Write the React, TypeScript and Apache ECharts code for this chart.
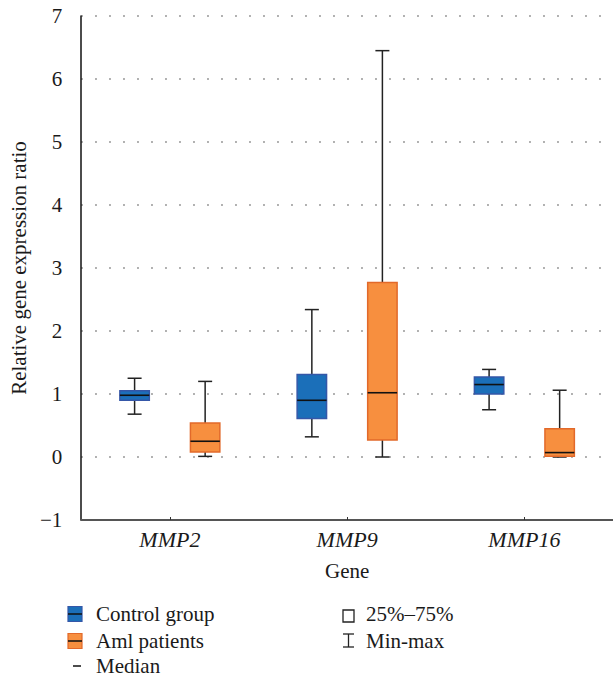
import React, { useEffect, useRef } from "react";
import * as echarts from "echarts";

const categories = ["MMP2", "MMP9", "MMP16"];
// [min, q1, median, q3, max]
const controlGroup = [
  [0.68, 0.9, 0.98, 1.05, 1.25],
  [0.32, 0.61, 0.9, 1.31, 2.34],
  [0.75, 1.0, 1.15, 1.27, 1.39],
];
const amlPatients = [
  [0.01, 0.08, 0.25, 0.54, 1.2],
  [0.0, 0.27, 1.02, 2.77, 6.45],
  [0.0, 0.01, 0.07, 0.45, 1.06],
];
const yTicks = { min: -1, max: 7, interval: 1 };
const seriesNames = ["Control group", "Aml patients"];
const legendExtra = ["Median", "25%–75%", "Min-max"];

const FONT = "Liberation Serif, DejaVu Serif, Times New Roman, serif";
const TEXT = "#1a1a1a";
const FS = 21;

function makeRender(offsetFrac: number, fill: string, stroke: string) {
  return (params: any, api: any) => {
    const ci = api.value(0);
    const band = api.size([1, 0])[0];
    const xc = api.coord([ci, 0])[0] + offsetFrac * band;
    const y = (k: number) => api.coord([ci, api.value(k)])[1];
    const yMin = y(1), yQ1 = y(2), yMed = y(3), yQ3 = y(4), yMax = y(5);
    const hw = 0.083 * band;
    const cap = 7;
    const wStyle = { stroke: "#222", lineWidth: 1.5 };
    return {
      type: "group",
      children: [
        { type: "line", shape: { x1: xc, y1: yMax, x2: xc, y2: yQ3 }, style: wStyle },
        { type: "line", shape: { x1: xc, y1: yQ1, x2: xc, y2: yMin }, style: wStyle },
        { type: "line", shape: { x1: xc - cap, y1: yMax, x2: xc + cap, y2: yMax }, style: wStyle },
        { type: "line", shape: { x1: xc - cap, y1: yMin, x2: xc + cap, y2: yMin }, style: wStyle },
        {
          type: "rect",
          shape: { x: xc - hw, y: yQ3, width: 2 * hw, height: Math.max(yQ1 - yQ3, 0.5) },
          style: { fill, stroke, lineWidth: 1.5 },
        },
        { type: "line", shape: { x1: xc - hw, y1: yMed, x2: xc + hw, y2: yMed }, style: { stroke: "#111", lineWidth: 1.6 } },
      ],
    };
  };
}

export default function App() {
  const ref = useRef<HTMLDivElement>(null);
  useEffect(() => {
    if (!ref.current) return;
    const chart = echarts.init(ref.current, null, { renderer: "svg" });
    const blue = "#1b6fb9";
    const blueStroke = "#3557a8";
    const orange = "#f78f3f";
    const orangeStroke = "#e2692a";
    const legendText = (x: number, y: number, text: string) => ({
      type: "text",
      x,
      y,
      style: { text, fill: TEXT, fontFamily: FONT, fontSize: FS, textVerticalAlign: "middle" },
    });
    const swatch = (x: number, y: number, fill: string, stroke: string) => ({
      type: "group",
      children: [
        { type: "rect", shape: { x, y: y - 7.5, width: 14, height: 15 }, style: { fill, stroke, lineWidth: 1.2 } },
        { type: "line", shape: { x1: x, y1: y, x2: x + 14, y2: y }, style: { stroke: "#111", lineWidth: 1.5 } },
      ],
    });
    chart.setOption({
      animation: false,
      textStyle: { fontFamily: FONT },
      grid: { left: 70, right: 0, top: 16, bottom: 158 },
      xAxis: {
        type: "category",
        data: categories,
        name: "Gene",
        nameLocation: "middle",
        nameGap: 40,
        nameTextStyle: { fontFamily: FONT, fontSize: FS, color: TEXT },
        axisLine: { onZero: false, lineStyle: { color: "#555", width: 2 } },
        axisTick: { show: true, inside: true, length: 3, alignWithLabel: true, lineStyle: { color: "#333" } },
        axisLabel: { fontFamily: FONT, fontSize: 22, fontStyle: "italic", color: TEXT, margin: 8 },
        splitLine: { show: false },
      },
      yAxis: {
        type: "value",
        min: yTicks.min,
        max: yTicks.max,
        interval: yTicks.interval,
        name: "Relative gene expression ratio",
        nameLocation: "middle",
        nameGap: 42,
        nameTextStyle: { fontFamily: FONT, fontSize: FS, color: TEXT },
        axisLine: { show: true, lineStyle: { color: "#111", width: 1.5 } },
        axisTick: { show: false },
        axisLabel: {
          fontFamily: FONT,
          fontSize: FS,
          color: TEXT,
          margin: 19,
          formatter: (v: number) => (v < 0 ? "\u2212" + Math.abs(v) : String(v)),
        },
        splitLine: { show: true, lineStyle: { color: "#777", width: 1.5, type: [1.5, 12.5] } },
      },
      graphic: [
        swatch(68, 614, blue, blueStroke),
        legendText(96, 614, seriesNames[0]),
        swatch(68, 641, orange, orangeStroke),
        legendText(96, 641, seriesNames[1]),
        { type: "line", shape: { x1: 73, y1: 666, x2: 81, y2: 666 }, style: { stroke: "#111", lineWidth: 1.5 } },
        legendText(96, 666, legendExtra[0]),
        { type: "rect", shape: { x: 343, y: 610, width: 11, height: 12 }, style: { fill: "#fff", stroke: "#222", lineWidth: 1.3 } },
        legendText(366, 614, legendExtra[1]),
        {
          type: "group",
          children: [
            { type: "line", shape: { x1: 343, y1: 634, x2: 354, y2: 634 }, style: { stroke: "#222", lineWidth: 1.3 } },
            { type: "line", shape: { x1: 348.5, y1: 634, x2: 348.5, y2: 647 }, style: { stroke: "#222", lineWidth: 1.3 } },
            { type: "line", shape: { x1: 343, y1: 647, x2: 354, y2: 647 }, style: { stroke: "#222", lineWidth: 1.3 } },
          ],
        },
        legendText(366, 641, legendExtra[2]),
      ],
      series: [
        {
          name: seriesNames[0],
          type: "custom",
          renderItem: makeRender(-0.199, blue, blueStroke),
          encode: { x: 0, y: [1, 2, 3, 4, 5] },
          data: controlGroup.map((d, i) => [i, ...d]),
        },
        {
          name: seriesNames[1],
          type: "custom",
          renderItem: makeRender(0.199, orange, orangeStroke),
          encode: { x: 0, y: [1, 2, 3, 4, 5] },
          data: amlPatients.map((d, i) => [i, ...d]),
        },
      ],
    });
    return () => chart.dispose();
  }, []);
  return <div ref={ref} style={{ position: "absolute", left: 0, top: 0, width: 613, height: 678 }} />;
}
